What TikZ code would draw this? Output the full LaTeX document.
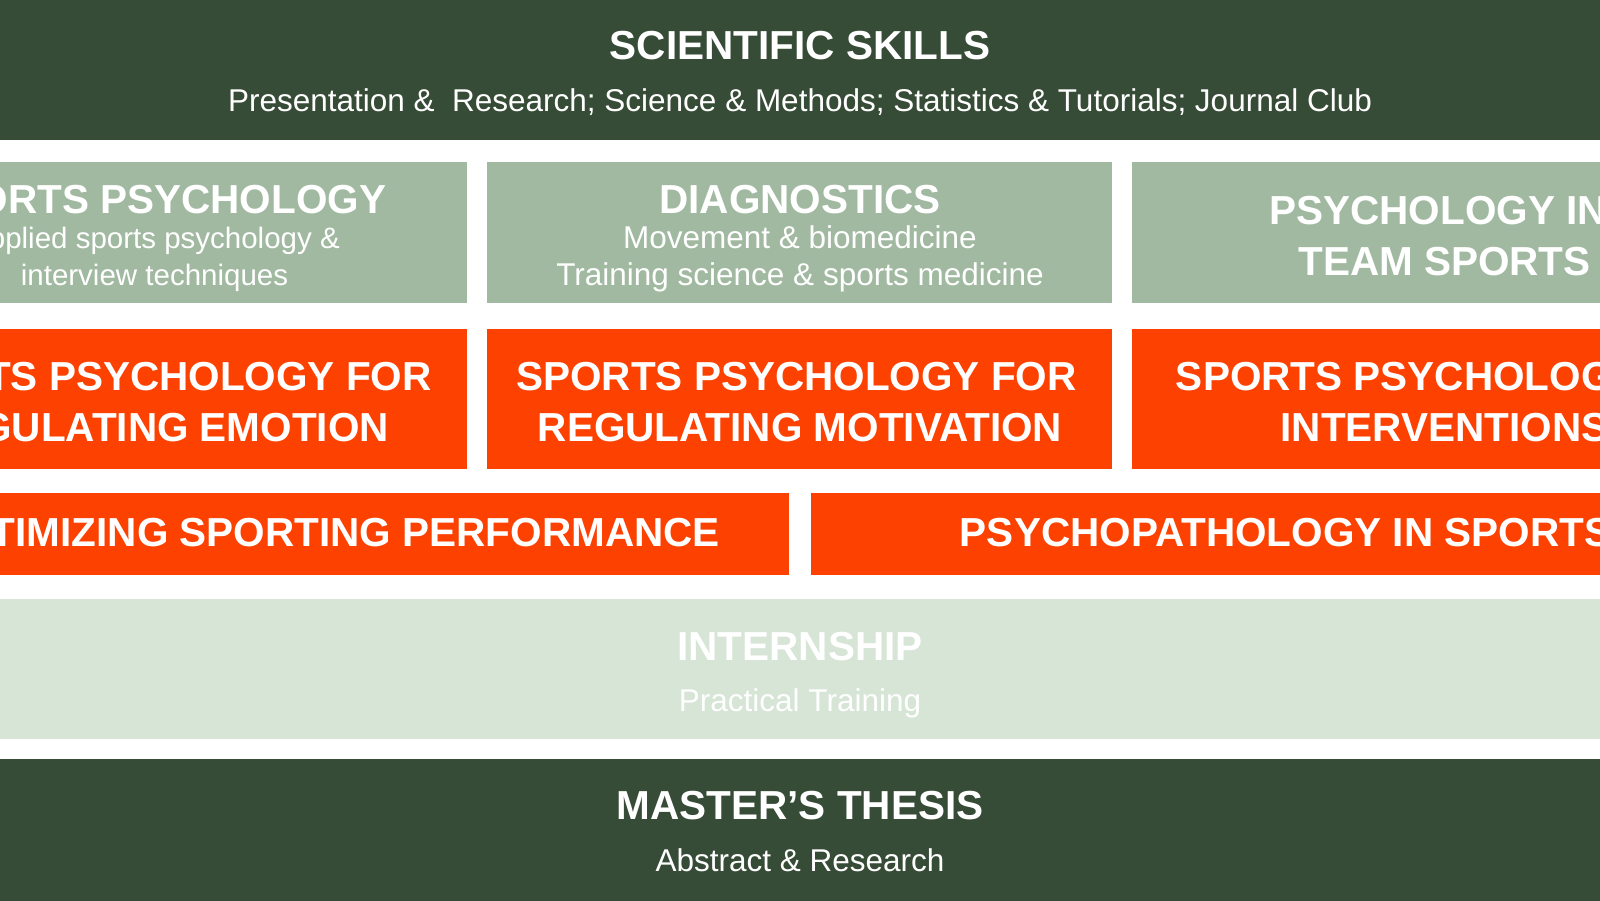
\documentclass[tikz,border=0pt]{standalone}
\usepackage{fontspec}
\setmainfont{Liberation Sans}
\definecolor{darkgreen}{HTML}{364C36}
\definecolor{sage}{HTML}{A1B9A1}
\definecolor{orangebox}{HTML}{FD4100}
\definecolor{palegreen}{HTML}{D6E5D6}
\begin{document}
\begin{tikzpicture}[x=1pt,y=-1pt,
  box/.style={rectangle, draw=none, inner sep=0pt, outer sep=0pt, anchor=north west},
  head/.style={text=white, font=\fontsize{40.5}{48}\selectfont\bfseries, anchor=base, inner sep=0pt},
  sub/.style={text=white, font=\fontsize{31.5}{37}\selectfont, anchor=base, inner sep=0pt},
  subsmall/.style={sub, font=\fontsize{29.5}{35}\selectfont}]
\useasboundingbox (0,0) rectangle (1600,900);
\fill[white] (0,0) rectangle (1600,900);
\clip (0,0) rectangle (1600,900);
% bands and boxes
\node[box, fill=darkgreen, minimum width=1620pt, minimum height=140pt] (skills) at (-10,0) {};
\node[box, fill=sage, minimum width=625pt, minimum height=141pt] (spbox) at (-158,162) {};
\node[box, fill=sage, minimum width=625pt, minimum height=141pt] (diag) at (487,162) {};
\node[box, fill=sage, minimum width=625pt, minimum height=141pt] (team) at (1132,162) {};
\node[box, fill=orangebox, minimum width=625pt, minimum height=140pt] (emo) at (-158,329) {};
\node[box, fill=orangebox, minimum width=625pt, minimum height=140pt] (mot) at (487,329) {};
\node[box, fill=orangebox, minimum width=625pt, minimum height=140pt] (interv) at (1132,329) {};
\node[box, fill=orangebox, minimum width=947pt, minimum height=82pt] (opt) at (-158,493) {};
\node[box, fill=orangebox, minimum width=947pt, minimum height=82pt] (patho) at (811,493) {};
\node[box, fill=palegreen, minimum width=1620pt, minimum height=140pt] (intern) at (-10,599) {};
\node[box, fill=darkgreen, minimum width=1620pt, minimum height=150pt] (thesis) at (-10,759) {};
% texts
\node[head] (skillsT) at (800,59) {SCIENTIFIC SKILLS};
\node[sub] (skillsS) at (800,111.5) {Presentation \&\ \ Research; Science \& Methods; Statistics \& Tutorials; Journal Club};
\node[head] (spT) at (154.5,213) {SPORTS PSYCHOLOGY};
\node[subsmall] (spS1) at (154.5,248.5) {Applied sports psychology \&};
\node[subsmall] (spS2) at (154.5,285.5) {interview techniques};
\node[head] (diagT) at (800,213) {DIAGNOSTICS};
\node[sub] (diagS1) at (800,248.5) {Movement \& biomedicine};
\node[sub] (diagS2) at (800,285.5) {Training science \& sports medicine};
\node[head] (teamT1) at (1438,224) {PSYCHOLOGY IN};
\node[head] (teamT2) at (1444.5,275) {TEAM SPORTS};
\node[head] (emoT1) at (151.5,390) {SPORTS PSYCHOLOGY FOR};
\node[head] (emoT2) at (156.5,441) {REGULATING EMOTION};
\node[head] (motT1) at (796.5,390) {SPORTS PSYCHOLOGY FOR};
\node[head] (motT2) at (800,441) {REGULATING MOTIVATION};
\node[head] (intervT1) at (1441.5,390) {SPORTS PSYCHOLOGICAL};
\node[head] (intervT2) at (1444.5,441) {INTERVENTIONS};
\node[head] (optT) at (326,546) {OPTIMIZING SPORTING PERFORMANCE};
\node[head] (pathoT) at (1285.5,546) {PSYCHOPATHOLOGY IN SPORTS};
\node[head] (internT) at (800,660) {INTERNSHIP};
\node[sub] (internS) at (800,711.5) {Practical Training};
\node[head] (thesisT) at (800,819) {MASTER’S THESIS};
\node[sub] (thesisS) at (800,871.5) {Abstract \& Research};
\end{tikzpicture}
\end{document}
